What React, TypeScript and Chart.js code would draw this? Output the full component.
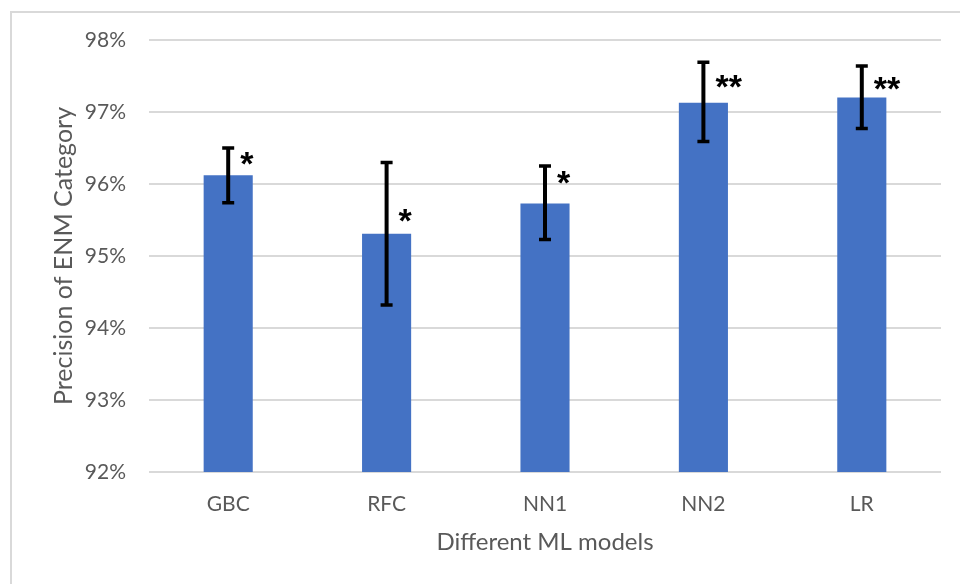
import React, { useEffect, useRef } from "react";
import { Chart, registerables } from "chart.js";

Chart.register(...registerables);

const categories = ["GBC", "RFC", "NN1", "NN2", "LR"];
const precision = [96.12, 95.31, 95.73, 97.13, 97.2];
const errLow = [95.74, 94.32, 95.23, 96.59, 96.77];
const errHigh = [96.5, 96.3, 96.25, 97.69, 97.64];
const sigLabels = ["*", "*", "*", "**", "**"];
const sigLabelAt = [96.36, 95.56, 96.09, 97.43, 97.39];
const yTicks = [92, 93, 94, 95, 96, 97, 98];

const GREY_TEXT = "#595959";
const GRID = "#d9d9d9";

const overlayPlugin = {
  id: "overlay",
  beforeDraw(chart: any) {
    const ctx = chart.ctx;
    ctx.save();
    ctx.fillStyle = "#ffffff";
    ctx.fillRect(0, 0, chart.width, chart.height);
    ctx.fillStyle = GRID;
    ctx.fillRect(10, 11, chart.width - 10, 2);
    ctx.fillRect(10, 11, 2, chart.height - 11);
    ctx.restore();
  },
  afterDatasetsDraw(chart: any) {
    const ctx = chart.ctx;
    const xs = chart.scales.x;
    const ys = chart.scales.y;
    ctx.save();
    ctx.strokeStyle = "#000000";
    ctx.fillStyle = "#000000";
    categories.forEach((c, i) => {
      const x = xs.getPixelForValue(i);
      const yl = ys.getPixelForValue(errLow[i]);
      const yh = ys.getPixelForValue(errHigh[i]);
      ctx.lineWidth = 4;
      ctx.beginPath();
      ctx.moveTo(x, yh);
      ctx.lineTo(x, yl);
      ctx.stroke();
      ctx.lineWidth = 3.5;
      ctx.beginPath();
      ctx.moveTo(x - 6, yh);
      ctx.lineTo(x + 6, yh);
      ctx.moveTo(x - 6, yl);
      ctx.lineTo(x + 6, yl);
      ctx.stroke();

      // significance asterisks
      ctx.font = "bold 34px 'Liberation Sans'";
      ctx.textAlign = "left";
      ctx.textBaseline = "alphabetic";
      const m = ctx.measureText(sigLabels[i]);
      const cy = ys.getPixelForValue(sigLabelAt[i]);
      const asc = m.actualBoundingBoxAscent;
      const desc = m.actualBoundingBoxDescent;
      const yDraw = cy + (asc - desc) / 2;
      const xDraw = x + 12 + m.actualBoundingBoxLeft;
      ctx.fillText(sigLabels[i], xDraw, yDraw);
    });
    ctx.restore();
  },
};

export default function App() {
  const ref = useRef<HTMLCanvasElement>(null);

  useEffect(() => {
    if (!ref.current) return;
    const chart = new Chart(ref.current, {
      type: "bar",
      data: {
        labels: categories,
        datasets: [
          {
            label: "Precision",
            data: precision,
            backgroundColor: "#4472C4",
            borderWidth: 0,
            barPercentage: 0.31,
            categoryPercentage: 1,
          },
        ],
      },
      options: {
        responsive: false,
        animation: false,
        devicePixelRatio: 1,
        layout: { padding: { top: 40, right: 19, left: 0, bottom: 0 } },
        plugins: {
          legend: { display: false },
          tooltip: { enabled: false },
        },
        scales: {
          x: {
            grid: { display: false, drawTicks: false },
            border: { display: false },
            ticks: {
              color: GREY_TEXT,
              font: { family: "Lato", size: 21 },
              padding: 20,
            },
            title: {
              display: true,
              text: "Different ML models",
              color: GREY_TEXT,
              font: { family: "Lato", size: 24 },
              padding: { top: 0, bottom: 27 },
            },
            afterFit(scale: any) {
              scale.height = 112;
            },
          },
          y: {
            min: 92,
            max: 98,
            afterBuildTicks(scale: any) {
              scale.ticks = yTicks.map((v) => ({ value: v }));
            },
            grid: { color: GRID, lineWidth: 2, drawTicks: false },
            border: { display: false },
            ticks: {
              color: GREY_TEXT,
              font: { family: "Lato", size: 21 },
              padding: 23,
              callback: (v: any) => v + "%",
            },
            title: {
              display: true,
              text: "Precision of ENM Category",
              color: GREY_TEXT,
              font: { family: "Lato", size: 25 },
              padding: { top: 49, bottom: 0 },
            },
            afterFit(scale: any) {
              scale.width = 149;
            },
          },
        },
      },
      plugins: [overlayPlugin],
    });
    return () => chart.destroy();
  }, []);

  return (
    <div style={{ position: "absolute", left: 0, top: 0, width: 960, height: 584 }}>
      <canvas ref={ref} width={960} height={584} style={{ display: "block" }} />
    </div>
  );
}
